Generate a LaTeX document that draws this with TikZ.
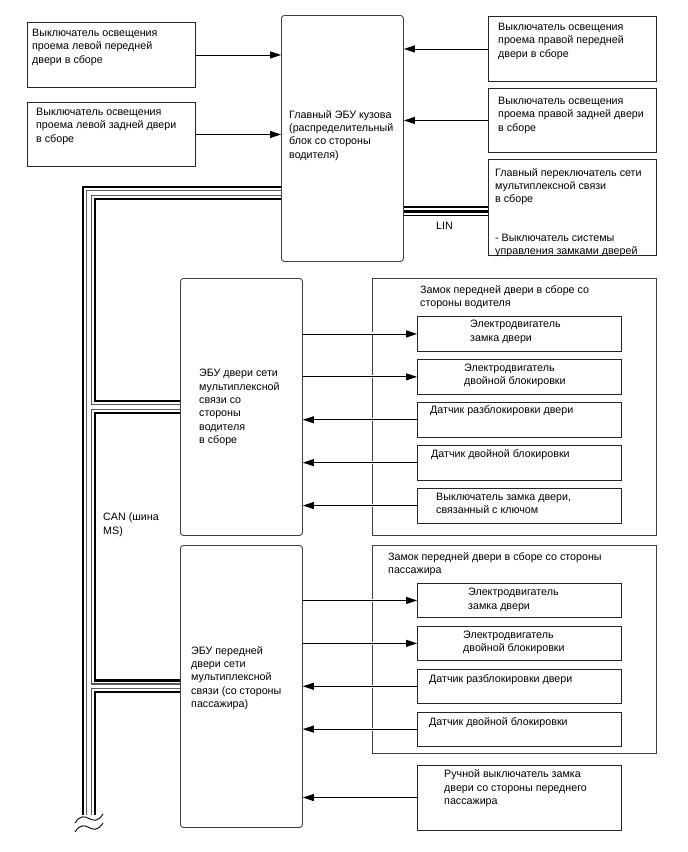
\documentclass[tikz,border=0pt]{standalone}
\usepackage{fontspec}
\setmainfont{Liberation Sans}
\usetikzlibrary{positioning,arrows.meta}

\begin{document}
\begin{tikzpicture}[
  x=1pt, y=-1pt,
  >={Triangle[length=11pt,width=7pt]},
  font=\fontsize{10.7}{13.4}\selectfont,
  sw/.style={draw=black!85, line width=0.9pt, anchor=north west, minimum width=168pt, inner sep=0pt},
  ecu/.style={draw=black!75, line width=0.9pt, rounded corners=3pt, anchor=north west, minimum width=122pt, inner sep=0pt},
  grp/.style={draw=black!75, line width=0.9pt, anchor=north west, minimum width=284pt, inner sep=0pt},
  part/.style={draw=black!85, line width=0.9pt, minimum width=204pt, minimum height=34pt, inner sep=0pt},
  txt/.style={align=left, anchor=north west, inner sep=0pt},
  arr/.style={->, line width=0.9pt, preaction={draw=white, line width=3pt, -, shorten <=6pt, shorten >=6pt}},
  can/.style={line width=14pt, postaction={draw=white, line width=9.5pt}, postaction={draw=black!65, line width=6pt}, postaction={draw=white, line width=3.5pt}},
  lin/.style={line width=10pt, postaction={draw=white, line width=7.5pt}, postaction={draw=black, line width=3.5pt}}
]
  \useasboundingbox (0,0) rectangle (688,852);

  \node[sw, minimum height=65pt] (lfront) at (27,22) {};
  \node[sw, minimum height=64pt] (lrear) at (27,102) {};
  \node[ecu, minimum height=246pt] (bcm) at (281,15) {};
  \node[sw, minimum height=65pt] (rfront) at (488,16) {};
  \node[sw, minimum height=64pt] (rrear) at (488,88) {};
  \node[sw, minimum height=96pt] (mswitch) at (488,159) {};
  \node[ecu, minimum height=257pt] (drvecu) at (180,278) {};
  \node[ecu, minimum height=282pt] (pasecu) at (180,545) {};
  \node[grp, minimum height=257pt] (drvlock) at (372,278) {};
  \node[grp, minimum height=208pt] (paslock) at (372,545) {};

  \node[part, anchor=north west, minimum height=35pt] (dmot) at (417,316) {};
  \node[part, minimum height=35pt, below=7pt of dmot] (dlock2) {};
  \node[part, minimum height=35pt, below=7pt of dlock2] (dsens) {};
  \node[part, minimum height=35pt, below=7pt of dsens] (ddbl) {};
  \node[part, minimum height=35pt, below=7pt of ddbl] (dkey) {};

  \node[part, anchor=north west] (pmot) at (417,583) {};
  \node[part, below=8pt of pmot] (plock2) {};
  \node[part, below=8pt of plock2] (psens) {};
  \node[part, below=8pt of psens] (pdbl) {};
  \node[part, minimum height=65pt, below=18pt of pdbl] (pman) {};

  \node[txt] (lfronttxt) at ([shift={(5,7)}]lfront.north west) {Выключатель освещения\\проема левой передней\\двери в сборе};
  \node[txt] (lreartxt) at ([shift={(9,6)}]lrear.north west) {Выключатель освещения\\проема левой задней двери\\в сборе};
  \node[txt] (bcmtxt) at ([shift={(8,95)}]bcm.north west) {Главный ЭБУ кузова\\(распределительный\\блок со стороны\\водителя)};
  \node[txt] (rfronttxt) at ([shift={(10,7)}]rfront.north west) {Выключатель освещения\\проема правой передней\\двери в сборе};
  \node[txt] (rreartxt) at ([shift={(10,9)}]rrear.north west) {Выключатель освещения\\проема правой задней двери\\в сборе};
  \node[txt] (mswitchtxt) at ([shift={(7,9)}]mswitch.north west) {Главный переключатель сети\\мультиплексной связи\\в сборе\\[25pt]- Выключатель системы\\управления замками дверей};
  \node[txt] (drvecutxt) at ([shift={(19,91)}]drvecu.north west) {ЭБУ двери сети\\мультиплексной\\связи со\\стороны\\водителя\\в сборе};
  \node[txt] (pasecutxt) at ([shift={(11,101)}]pasecu.north west) {ЭБУ передней\\двери сети\\мультиплексной\\связи (со стороны\\пассажира)};
  \node[txt] (drvlocktxt) at ([shift={(48,7)}]drvlock.north west) {Замок передней двери в сборе со\\стороны водителя};
  \node[txt] (paslocktxt) at ([shift={(16,7)}]paslock.north west) {Замок передней двери в сборе со стороны\\пассажира};
  \node[txt] (dmottxt) at ([shift={(53,4)}]dmot.north west) {Электродвигатель\\замка двери};
  \node[txt] (dlock2txt) at ([shift={(47,5)}]dlock2.north west) {Электродвигатель\\двойной блокировки};
  \node[txt] (dsenstxt) at ([shift={(13,4)}]dsens.north west) {Датчик разблокировки двери};
  \node[txt] (ddbltxt) at ([shift={(14,5)}]ddbl.north west) {Датчик двойной блокировки};
  \node[txt] (dkeytxt) at ([shift={(19,5)}]dkey.north west) {Выключатель замка двери,\\связанный с ключом};
  \node[txt] (pmottxt) at ([shift={(51,5)}]pmot.north west) {Электродвигатель\\замка двери};
  \node[txt] (plock2txt) at ([shift={(46,5)}]plock2.north west) {Электродвигатель\\двойной блокировки};
  \node[txt] (psenstxt) at ([shift={(12,6)}]psens.north west) {Датчик разблокировки двери};
  \node[txt] (pdbltxt) at ([shift={(12,6)}]pdbl.north west) {Датчик двойной блокировки};
  \node[txt] (pmantxt) at ([shift={(27,5)}]pman.north west) {Ручной выключатель замка\\двери со стороны переднего\\пассажира};
  \node[txt] (cantxt) at (103,513) {CAN (шина\\MS)};
  \node[txt] (lintxt) at (436,222) {LIN};

  \coordinate (cantop) at (89,193);
  \coordinate (canend) at (89,815);
  \draw[can] (cantop -| bcm.west) -- (cantop) -- (canend)
    (drvecu.west) -- (drvecu.west -| cantop)
    (pasecu.west) -- (pasecu.west -| cantop);
  \draw[lin] ([yshift=-4pt]mswitch.west) -- ([yshift=-4pt]mswitch.west -| bcm.east);
  \draw[line width=0.9pt] (75,823) .. controls (86,806) and (92,831) .. (103,814);
  \draw[line width=0.9pt] (75,832) .. controls (86,815) and (92,840) .. (103,823);

  \draw[arr] (lfront.east) -- (lfront.east -| bcm.west);
  \draw[arr] (lrear.east) -- (lrear.east -| bcm.west);
  \draw[arr] (rfront.west) -- (rfront.west -| bcm.east);
  \draw[arr] (rrear.west) -- (rrear.west -| bcm.east);
  \draw[arr] (drvecu.east |- dmot.west) -- (dmot.west);
  \draw[arr] (drvecu.east |- dlock2.west) -- (dlock2.west);
  \draw[arr] (dsens.west) -- (dsens.west -| drvecu.east);
  \draw[arr] (ddbl.west) -- (ddbl.west -| drvecu.east);
  \draw[arr] (dkey.west) -- (dkey.west -| drvecu.east);
  \draw[arr] (pasecu.east |- pmot.west) -- (pmot.west);
  \draw[arr] (pasecu.east |- plock2.west) -- (plock2.west);
  \draw[arr] (psens.west) -- (psens.west -| pasecu.east);
  \draw[arr] (pdbl.west) -- (pdbl.west -| pasecu.east);
  \draw[arr] (pman.west) -- (pman.west -| pasecu.east);
\end{tikzpicture}
\end{document}
